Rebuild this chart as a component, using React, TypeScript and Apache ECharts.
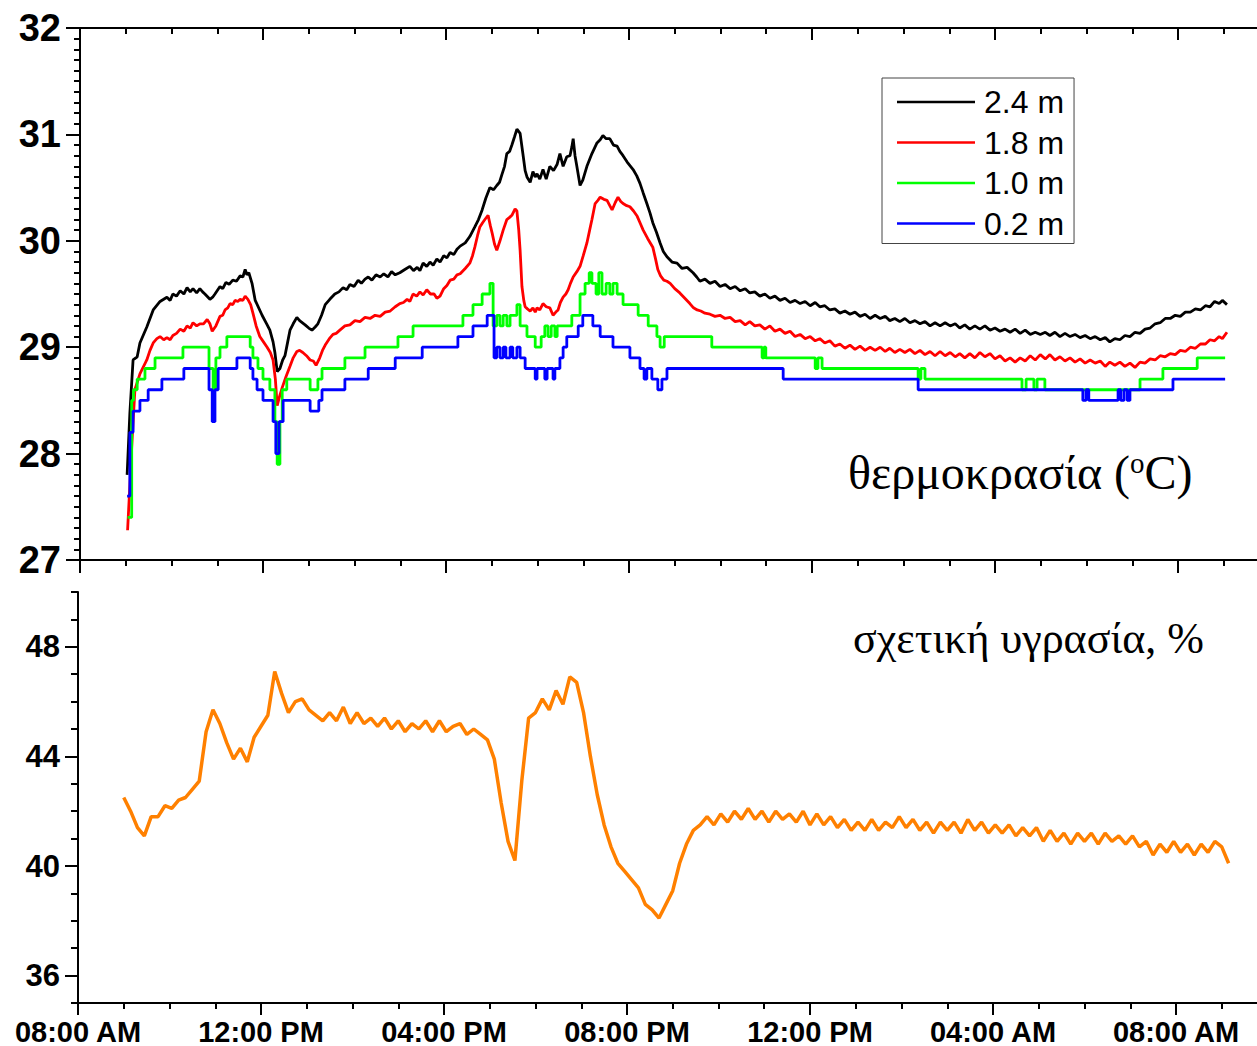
import React, { useEffect, useRef } from "react";
import * as echarts from "echarts";

// hours since 08:00 AM of day 1
const TIME_TICK_LABELS = ["08:00 AM", "12:00 PM", "04:00 PM", "08:00 PM", "12:00 PM", "04:00 AM", "08:00 AM"];
const RH_MAJOR_TICKS = [36, 40, 44, 48];
const LEGEND_NAMES = ["2.4 m", "1.8 m", "1.0 m", "0.2 m"];
const TEMP_TITLE = "θερμοκρασία";
const RH_TITLE = "σχετική υγρασία, %";

const T_24: [number, number][] = [[1.03,27.8],[1.09,28.38],[1.16,28.88],[1.25,28.91],[1.31,29.04],[1.46,29.19],[1.60,29.35],[1.75,29.43],[1.90,29.47],[1.97,29.44],[2.03,29.5],[2.11,29.48],[2.19,29.53],[2.27,29.5],[2.34,29.56],[2.41,29.52],[2.47,29.55],[2.55,29.51],[2.62,29.55],[2.68,29.52],[2.73,29.5],[2.84,29.45],[2.90,29.47],[2.95,29.5],[3.06,29.57],[3.12,29.55],[3.19,29.61],[3.26,29.59],[3.34,29.63],[3.42,29.62],[3.50,29.67],[3.56,29.66],[3.61,29.73],[3.65,29.68],[3.69,29.7],[3.76,29.6],[3.83,29.44],[3.98,29.3],[4.08,29.22],[4.15,29.16],[4.22,29.05],[4.26,28.95],[4.31,28.77],[4.37,28.8],[4.43,28.88],[4.48,28.92],[4.54,29.05],[4.59,29.16],[4.66,29.22],[4.74,29.28],[4.80,29.25],[4.92,29.21],[5.00,29.18],[5.07,29.16],[5.14,29.19],[5.20,29.22],[5.28,29.3],[5.36,29.4],[5.46,29.45],[5.57,29.5],[5.66,29.52],[5.75,29.56],[5.83,29.54],[5.90,29.59],[5.99,29.57],[6.08,29.63],[6.15,29.6],[6.23,29.64],[6.30,29.66],[6.38,29.63],[6.47,29.68],[6.56,29.66],[6.64,29.69],[6.73,29.66],[6.81,29.71],[6.89,29.68],[6.99,29.7],[7.10,29.73],[7.21,29.76],[7.29,29.72],[7.37,29.75],[7.43,29.72],[7.50,29.79],[7.58,29.76],[7.65,29.8],[7.72,29.77],[7.80,29.83],[7.87,29.8],[7.95,29.86],[8.02,29.84],[8.09,29.89],[8.17,29.87],[8.24,29.92],[8.31,29.95],[8.42,29.98],[8.52,30.04],[8.63,30.13],[8.71,30.2],[8.79,30.29],[8.87,30.4],[8.96,30.5],[9.04,30.48],[9.11,30.52],[9.17,30.55],[9.22,30.62],[9.28,30.7],[9.33,30.82],[9.39,30.84],[9.44,30.9],[9.50,30.98],[9.55,31.05],[9.62,31.01],[9.68,30.82],[9.73,30.66],[9.77,30.6],[9.84,30.55],[9.90,30.65],[9.95,30.6],[9.99,30.63],[10.05,30.58],[10.12,30.67],[10.19,30.58],[10.27,30.7],[10.35,30.66],[10.43,30.72],[10.49,30.82],[10.56,30.7],[10.64,30.79],[10.71,30.8],[10.75,30.88],[10.78,30.96],[10.82,30.8],[10.86,30.7],[10.93,30.52],[10.99,30.57],[11.08,30.7],[11.19,30.82],[11.30,30.92],[11.37,30.95],[11.43,30.99],[11.50,30.96],[11.58,30.96],[11.66,30.9],[11.74,30.89],[11.80,30.84],[11.87,30.8],[11.96,30.74],[12.09,30.67],[12.17,30.61],[12.24,30.54],[12.31,30.45],[12.39,30.35],[12.46,30.26],[12.52,30.17],[12.60,30.08],[12.68,29.98],[12.75,29.9],[12.83,29.85],[12.94,29.8],[13.05,29.79],[13.16,29.74],[13.27,29.75],[13.40,29.7],[13.48,29.66],[13.55,29.62],[13.66,29.64],[13.77,29.6],[13.88,29.62],[13.99,29.57],[14.10,29.59],[14.21,29.55],[14.32,29.57],[14.43,29.53],[14.54,29.55],[14.64,29.51],[14.75,29.52],[14.86,29.48],[14.97,29.5],[15.08,29.46],[15.19,29.48],[15.30,29.44],[15.41,29.46],[15.52,29.42],[15.63,29.44],[15.74,29.41],[15.85,29.43],[15.96,29.39],[16.07,29.42],[16.17,29.38],[16.28,29.39],[16.39,29.35],[16.50,29.36],[16.61,29.32],[16.72,29.34],[16.83,29.31],[16.94,29.33],[17.05,29.29],[17.16,29.31],[17.27,29.27],[17.38,29.3],[17.49,29.27],[17.60,29.29],[17.70,29.25],[17.81,29.27],[17.92,29.24],[18.03,29.27],[18.14,29.23],[18.25,29.25],[18.36,29.22],[18.47,29.24],[18.58,29.2],[18.69,29.23],[18.80,29.2],[18.91,29.23],[19.02,29.2],[19.13,29.22],[19.23,29.18],[19.34,29.21],[19.45,29.17],[19.56,29.2],[19.67,29.17],[19.78,29.2],[19.89,29.16],[20.00,29.18],[20.11,29.15],[20.22,29.17],[20.33,29.14],[20.44,29.17],[20.55,29.13],[20.66,29.16],[20.77,29.12],[20.88,29.14],[20.99,29.12],[21.10,29.14],[21.20,29.11],[21.31,29.14],[21.42,29.1],[21.53,29.13],[21.64,29.1],[21.75,29.12],[21.86,29.09],[21.97,29.11],[22.08,29.08],[22.19,29.1],[22.30,29.07],[22.41,29.09],[22.51,29.05],[22.62,29.08],[22.73,29.07],[22.84,29.11],[22.95,29.1],[23.06,29.14],[23.17,29.13],[23.28,29.17],[23.39,29.18],[23.50,29.22],[23.61,29.23],[23.72,29.27],[23.83,29.27],[23.94,29.3],[24.05,29.29],[24.16,29.33],[24.27,29.33],[24.38,29.36],[24.49,29.35],[24.60,29.39],[24.70,29.38],[24.80,29.43],[24.90,29.41],[24.97,29.44],[25.07,29.4]];

const T_18: [number, number][] = [[1.04,27.28],[1.09,27.7],[1.13,28.06],[1.20,28.6],[1.31,28.75],[1.39,28.82],[1.46,28.88],[1.53,28.97],[1.60,29.04],[1.68,29.08],[1.75,29.1],[1.83,29.07],[1.90,29.09],[1.97,29.07],[2.03,29.11],[2.11,29.13],[2.19,29.17],[2.27,29.15],[2.34,29.2],[2.41,29.18],[2.47,29.23],[2.55,29.2],[2.62,29.22],[2.70,29.22],[2.78,29.26],[2.84,29.22],[2.89,29.15],[2.97,29.2],[3.06,29.29],[3.12,29.3],[3.17,29.35],[3.23,29.37],[3.28,29.41],[3.34,29.4],[3.39,29.44],[3.45,29.43],[3.50,29.45],[3.56,29.44],[3.61,29.48],[3.67,29.45],[3.73,29.4],[3.78,29.32],[3.85,29.2],[3.93,29.1],[4.01,29.05],[4.09,29.0],[4.16,28.95],[4.22,28.88],[4.27,28.7],[4.31,28.45],[4.37,28.55],[4.42,28.62],[4.50,28.72],[4.59,28.82],[4.66,28.9],[4.74,28.96],[4.80,28.97],[4.87,28.95],[4.95,28.92],[5.03,28.88],[5.10,28.87],[5.16,28.83],[5.24,28.9],[5.30,28.97],[5.36,29.02],[5.45,29.08],[5.53,29.12],[5.60,29.13],[5.68,29.16],[5.79,29.2],[5.90,29.21],[6.01,29.25],[6.12,29.24],[6.23,29.28],[6.34,29.27],[6.45,29.3],[6.56,29.29],[6.67,29.33],[6.78,29.34],[6.89,29.38],[6.99,29.41],[7.07,29.42],[7.15,29.45],[7.21,29.43],[7.28,29.5],[7.36,29.48],[7.43,29.52],[7.50,29.49],[7.58,29.54],[7.66,29.5],[7.74,29.5],[7.80,29.46],[7.87,29.48],[7.95,29.55],[8.02,29.58],[8.09,29.63],[8.17,29.64],[8.24,29.68],[8.31,29.69],[8.42,29.74],[8.52,29.79],[8.58,29.86],[8.63,29.94],[8.69,30.05],[8.74,30.13],[8.80,30.17],[8.85,30.2],[8.92,30.24],[8.97,30.14],[9.01,30.07],[9.06,29.97],[9.11,29.91],[9.18,30.0],[9.25,30.1],[9.33,30.2],[9.39,30.22],[9.44,30.24],[9.51,30.3],[9.55,30.28],[9.59,30.1],[9.62,29.91],[9.66,29.57],[9.70,29.44],[9.73,29.38],[9.78,29.36],[9.84,29.34],[9.90,29.37],[9.95,29.33],[9.99,29.37],[10.05,29.35],[10.12,29.41],[10.19,29.38],[10.27,29.37],[10.34,29.3],[10.40,29.33],[10.45,29.35],[10.50,29.42],[10.56,29.47],[10.62,29.5],[10.67,29.54],[10.72,29.6],[10.78,29.66],[10.86,29.71],[10.93,29.76],[11.00,29.86],[11.08,29.98],[11.14,30.1],[11.19,30.2],[11.26,30.35],[11.32,30.38],[11.37,30.41],[11.45,30.39],[11.52,30.38],[11.58,30.33],[11.63,30.29],[11.70,30.36],[11.76,30.41],[11.82,30.37],[11.87,30.35],[11.95,30.33],[12.02,30.32],[12.10,30.28],[12.18,30.23],[12.25,30.16],[12.31,30.1],[12.41,30.02],[12.52,29.94],[12.58,29.83],[12.63,29.73],[12.69,29.67],[12.76,29.63],[12.83,29.62],[12.90,29.6],[13.00,29.55],[13.11,29.51],[13.22,29.46],[13.33,29.41],[13.41,29.37],[13.49,29.35],[13.57,29.34],[13.66,29.32],[13.77,29.31],[13.88,29.29],[13.99,29.3],[14.10,29.27],[14.21,29.28],[14.32,29.24],[14.43,29.25],[14.54,29.21],[14.64,29.24],[14.75,29.2],[14.86,29.21],[14.97,29.17],[15.08,29.2],[15.19,29.15],[15.30,29.17],[15.41,29.13],[15.52,29.15],[15.63,29.1],[15.74,29.12],[15.85,29.08],[15.96,29.1],[16.07,29.06],[16.17,29.08],[16.28,29.04],[16.39,29.06],[16.50,29.01],[16.61,29.03],[16.72,28.99],[16.83,29.02],[16.94,28.98],[17.05,29.01],[17.16,28.97],[17.27,29.0],[17.38,28.97],[17.49,29.0],[17.60,28.96],[17.70,28.99],[17.81,28.95],[17.92,28.98],[18.03,28.95],[18.14,28.98],[18.25,28.94],[18.36,28.97],[18.47,28.93],[18.58,28.96],[18.69,28.92],[18.80,28.96],[18.91,28.92],[19.02,28.95],[19.13,28.91],[19.23,28.94],[19.34,28.9],[19.45,28.94],[19.56,28.9],[19.67,28.95],[19.78,28.91],[19.89,28.94],[20.00,28.89],[20.11,28.92],[20.22,28.87],[20.33,28.9],[20.44,28.86],[20.55,28.9],[20.66,28.87],[20.77,28.92],[20.88,28.88],[20.99,28.93],[21.10,28.89],[21.20,28.93],[21.31,28.88],[21.42,28.91],[21.53,28.87],[21.64,28.9],[21.75,28.86],[21.86,28.89],[21.97,28.85],[22.08,28.88],[22.19,28.85],[22.30,28.87],[22.41,28.82],[22.51,28.86],[22.62,28.83],[22.73,28.86],[22.84,28.82],[22.95,28.85],[23.06,28.81],[23.17,28.86],[23.28,28.85],[23.39,28.89],[23.50,28.88],[23.61,28.92],[23.72,28.91],[23.83,28.94],[23.94,28.93],[24.05,28.97],[24.16,28.96],[24.27,29.0],[24.38,28.99],[24.49,29.03],[24.60,29.03],[24.70,29.07],[24.80,29.06],[24.90,29.1],[24.97,29.08],[25.07,29.14]];

// level changes: [hour, value held from that hour on]
const T_10: [number, number][] = [[1.04,27.4],[1.13,28.5],[1.17,28.6],[1.25,28.7],[1.42,28.8],[1.64,28.9],[2.25,29.0],[2.82,28.8],[2.91,28.6],[2.97,28.9],[3.06,29.0],[3.21,29.1],[3.72,29.0],[3.78,28.9],[3.89,28.8],[4.0,28.7],[4.15,28.6],[4.26,28.3],[4.31,27.9],[4.37,28.3],[4.42,28.6],[4.52,28.7],[5.03,28.6],[5.20,28.7],[5.29,28.8],[5.79,28.9],[6.23,29.0],[6.95,29.1],[7.28,29.2],[8.37,29.3],[8.59,29.4],[8.79,29.5],[8.96,29.6],[9.03,29.2],[9.11,29.3],[9.18,29.2],[9.25,29.3],[9.33,29.2],[9.40,29.3],[9.55,29.4],[9.62,29.2],[9.77,29.1],[9.95,29.0],[10.08,29.1],[10.16,29.2],[10.23,29.1],[10.30,29.2],[10.38,29.1],[10.43,29.2],[10.75,29.3],[10.93,29.5],[11.04,29.6],[11.13,29.7],[11.19,29.6],[11.28,29.5],[11.34,29.7],[11.41,29.5],[11.50,29.6],[11.58,29.5],[11.65,29.6],[11.74,29.5],[11.87,29.4],[12.20,29.3],[12.42,29.2],[12.61,29.1],[12.68,29.0],[12.77,29.1],[13.81,29.0],[14.91,28.9],[14.95,29.0],[14.99,28.9],[16.07,28.8],[16.13,28.9],[16.22,28.8],[18.32,28.7],[18.38,28.8],[18.47,28.7],[20.59,28.6],[20.68,28.7],[20.85,28.6],[20.92,28.7],[21.09,28.6],[23.17,28.7],[23.67,28.8],[24.42,28.9],[25.03,28.9]];

const T_02: [number, number][] = [[1.03,27.6],[1.09,28.2],[1.16,28.4],[1.31,28.5],[1.49,28.6],[1.79,28.7],[2.27,28.8],[2.82,28.6],[2.89,28.3],[2.95,28.6],[3.02,28.8],[3.43,28.9],[3.72,28.8],[3.78,28.7],[3.87,28.6],[4.0,28.5],[4.22,28.3],[4.28,28.0],[4.35,28.3],[4.44,28.5],[5.03,28.4],[5.22,28.5],[5.29,28.6],[5.79,28.7],[6.30,28.8],[6.89,28.9],[7.48,29.0],[8.26,29.1],[8.59,29.2],[8.90,29.3],[9.05,28.9],[9.11,29.0],[9.18,28.9],[9.25,29.0],[9.31,28.9],[9.40,29.0],[9.46,28.9],[9.55,29.0],[9.62,28.9],[9.73,28.8],[9.95,28.7],[9.99,28.8],[10.16,28.7],[10.21,28.8],[10.34,28.7],[10.38,28.8],[10.49,28.9],[10.56,29.0],[10.64,29.1],[10.89,29.2],[10.99,29.3],[11.21,29.2],[11.37,29.1],[11.65,29.0],[12.02,28.9],[12.24,28.8],[12.33,28.7],[12.39,28.8],[12.50,28.7],[12.63,28.6],[12.72,28.7],[12.83,28.8],[15.37,28.7],[18.32,28.6],[21.92,28.5],[21.99,28.6],[22.05,28.5],[22.69,28.6],[22.75,28.5],[22.82,28.6],[22.89,28.5],[22.95,28.6],[23.89,28.7],[25.03,28.7]];

// relative humidity, one reading every 0.15 h starting at 09:00 AM
const RH_START_H = 1.0;
const RH_STEP_H = 0.15;
const RH_VALUES = [42.5,42.0,41.4,41.1,41.8,41.8,42.2,42.1,42.4,42.5,42.8,43.1,44.9,45.7,45.2,44.5,43.9,44.3,43.8,44.7,45.1,45.5,47.1,46.3,45.6,46.0,46.1,45.7,45.5,45.3,45.6,45.3,45.8,45.2,45.6,45.2,45.4,45.1,45.4,45.0,45.3,44.9,45.2,45.0,45.3,44.9,45.3,44.9,45.1,45.2,44.8,45.0,44.8,44.6,43.9,42.3,40.9,40.2,43.1,45.4,45.6,46.1,45.7,46.4,45.9,46.9,46.7,45.6,44.0,42.6,41.5,40.7,40.1,39.8,39.5,39.2,38.6,38.4,38.1,38.6,39.1,40.1,40.8,41.3,41.5,41.8,41.5,41.9,41.6,42.0,41.7,42.1,41.7,42.0,41.6,42.0,41.7,41.9,41.6,42.0,41.5,41.9,41.5,41.8,41.4,41.7,41.3,41.6,41.3,41.7,41.3,41.6,41.4,41.8,41.4,41.7,41.3,41.6,41.2,41.6,41.3,41.6,41.2,41.7,41.3,41.6,41.2,41.5,41.2,41.5,41.1,41.4,41.1,41.4,40.9,41.3,40.9,41.2,40.8,41.2,40.9,41.2,40.8,41.2,40.9,41.1,40.8,41.1,40.7,40.9,40.4,40.8,40.5,40.9,40.5,40.8,40.4,40.8,40.5,40.9,40.7,40.1];

const SANS = 'Arial, "Liberation Sans", Helvetica, sans-serif';
const SERIF = '"Times New Roman", "Liberation Serif", serif';
const AXIS_LINE = { color: "#000", width: 2 };

function xAx(grid: number, pos: string, interval: number, len: number, inside: boolean, showLine: boolean, labels: boolean) {
  return {
    type: "value", gridIndex: grid, position: pos, min: 0, max: 26, interval,
    axisLine: { show: showLine, onZero: false, lineStyle: AXIS_LINE },
    axisTick: { show: true, inside, length: len, lineStyle: AXIS_LINE },
    axisLabel: labels
      ? {
          show: true, margin: 14, fontSize: 29, fontWeight: "bold", fontFamily: SANS, color: "#000",
          formatter: (v: number) => (v % 4 === 0 && v / 4 < TIME_TICK_LABELS.length ? TIME_TICK_LABELS[v / 4] : ""),
        }
      : { show: false },
    splitLine: { show: false },
  };
}

export default function App() {
  const ref = useRef<HTMLDivElement>(null);
  useEffect(() => {
    if (!ref.current) return;
    const chart = echarts.init(ref.current, null, { renderer: "svg" });
    const rhData = RH_VALUES.map((v, i) => [RH_START_H + i * RH_STEP_H, v]);
    const option: any = {
      animation: false,
      backgroundColor: "#fff",
      grid: [
        { left: 80, top: 28, width: 1189.5, height: 532, outerBoundsMode: "none", containLabel: false },
        { left: 78, top: 592, width: 1189.5, height: 411, outerBoundsMode: "none", containLabel: false },
      ],
      xAxis: [
        xAx(0, "bottom", 1, 6, false, true, false),
        xAx(0, "bottom", 4, 13, false, false, false),
        xAx(0, "top", 1, 6, true, true, false),
        xAx(0, "top", 4, 12, true, false, false),
        xAx(1, "bottom", 1, 6, false, true, false),
        xAx(1, "bottom", 4, 12, false, false, true),
      ],
      yAxis: [
        {
          type: "value", gridIndex: 0, position: "left", min: 27, max: 32, interval: 1,
          axisLine: { show: true, lineStyle: AXIS_LINE },
          axisTick: { show: true, length: 12, lineStyle: AXIS_LINE },
          minorTick: { show: true, splitNumber: 10, length: 6, lineStyle: AXIS_LINE },
          axisLabel: { show: true, margin: 19, fontSize: 38, fontWeight: "bold", fontFamily: SANS, color: "#000" },
          splitLine: { show: false },
        },
        {
          type: "value", gridIndex: 0, position: "right", min: 27, max: 32, interval: 1,
          axisLine: { show: true, lineStyle: AXIS_LINE },
          axisTick: { show: true, inside: true, length: 14, lineStyle: AXIS_LINE },
          axisLabel: { show: false },
          splitLine: { show: false },
        },
        {
          type: "value", gridIndex: 1, position: "left", min: 35, max: 50, interval: 1,
          axisLine: { show: true, lineStyle: AXIS_LINE },
          axisTick: { show: true, length: 7, lineStyle: AXIS_LINE },
          axisLabel: { show: false },
          splitLine: { show: false },
        },
        {
          type: "value", gridIndex: 1, position: "left", min: 35, max: 50,
          axisLine: { show: false },
          axisTick: { show: true, length: 13, lineStyle: AXIS_LINE, customValues: RH_MAJOR_TICKS },
          axisLabel: { show: true, customValues: RH_MAJOR_TICKS, margin: 18, fontSize: 31, fontWeight: "bold", fontFamily: SANS, color: "#000" },
          splitLine: { show: false },
        },
      ],
      legend: {
        show: true, data: LEGEND_NAMES, orient: "vertical", left: 882, top: 78,
        padding: [7, 10, 3, 15], itemGap: 6.5, itemWidth: 78, itemHeight: 2.5, icon: "rect",
        borderColor: "#444", borderWidth: 1, backgroundColor: "#fff", selectedMode: false,
        textStyle: { fontSize: 32, fontFamily: SANS, color: "#000", lineHeight: 34, padding: [0, 0, 0, 4] },
      },
      graphic: [
        {
          type: "text", x: 848, y: 472,
          style: {
            text: "{t|" + TEMP_TITLE + " (}{s|o}{t|C)}",
            verticalAlign: "middle",
            rich: {
              t: { fontSize: 48, fontFamily: SERIF, fill: "#000" },
              s: { fontSize: 29, lineHeight: 16, fontFamily: SERIF, fill: "#000", verticalAlign: "top" },
            },
          },
        },
        {
          type: "text", x: 853, y: 638,
          style: { text: RH_TITLE, verticalAlign: "middle", fontSize: 44, fontFamily: SERIF, fill: "#000" },
        },
      ],
      series: [
        { name: LEGEND_NAMES[0], type: "line", xAxisIndex: 0, yAxisIndex: 0, data: T_24, symbol: "none", lineStyle: { color: "#000000", width: 2.8 }, itemStyle: { color: "#000000" } },
        { name: LEGEND_NAMES[1], type: "line", xAxisIndex: 0, yAxisIndex: 0, data: T_18, symbol: "none", lineStyle: { color: "#ff0000", width: 2.8 }, itemStyle: { color: "#ff0000" } },
        { name: LEGEND_NAMES[2], type: "line", xAxisIndex: 0, yAxisIndex: 0, data: T_10, step: "end", symbol: "none", lineStyle: { color: "#00ff00", width: 2.8 }, itemStyle: { color: "#00ff00" } },
        { name: LEGEND_NAMES[3], type: "line", xAxisIndex: 0, yAxisIndex: 0, data: T_02, step: "end", symbol: "none", lineStyle: { color: "#0000ff", width: 2.8 }, itemStyle: { color: "#0000ff" } },
        { name: "RH", type: "line", xAxisIndex: 4, yAxisIndex: 2, data: rhData, symbol: "none", lineStyle: { color: "#ff8000", width: 3.5 }, itemStyle: { color: "#ff8000" } },
      ],
    };
    chart.setOption(option);
    return () => chart.dispose();
  }, []);
  return <div ref={ref} style={{ position: "absolute", left: 0, top: 0, width: 1257, height: 1046, background: "#fff" }} />;
}
